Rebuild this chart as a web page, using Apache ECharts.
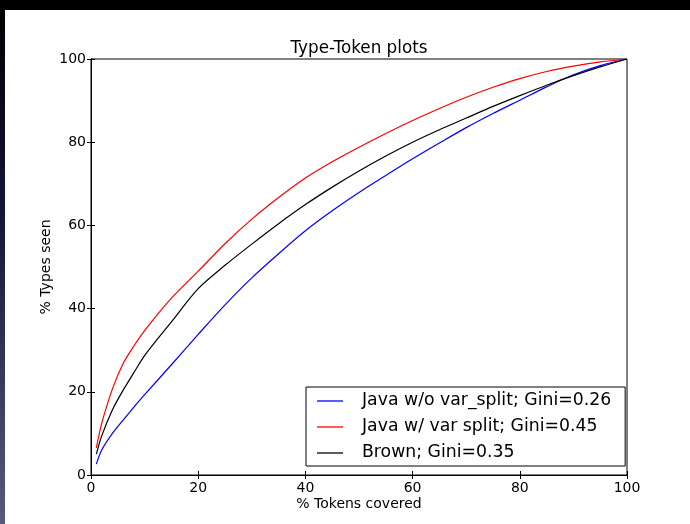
<!DOCTYPE html>
<html>
<head>
<meta charset="utf-8">
<script src="https://cdn.jsdelivr.net/npm/echarts@6/dist/echarts.min.js"></script>
<style>
    html, body { margin: 0; padding: 0; background: #fff; }
    #wrap { position: relative; width: 690px; height: 524px; overflow: hidden; }
    #chart { position: absolute; left: 0; top: 0; width: 690px; height: 524px; }
    #topband { position: absolute; left: 0; top: 0; width: 690px; height: 10px; background: #000; }
    #leftband {
        position: absolute; left: 0; top: 0; width: 5px; height: 524px;
        background: linear-gradient(to bottom, #000 0%, #14143a 40%, #3c3c62 75%, #5a5a7c 100%);
    }
</style>
</head>
<body>
<div id="wrap">
    <div id="chart"></div>
    <div id="topband"></div>
    <div id="leftband"></div>
</div>
<script>
// % tokens covered (x) shared by all three curves
const tokens = [1, 2, 4, 6, 8, 10, 15, 20, 25, 30, 35, 40, 45, 50, 55, 60, 65, 70, 75, 80, 85, 90, 95, 100]

// % types seen (y)
const javaNoSplit = [2.6, 6.0, 10.0, 13.2, 16.3, 19.3, 26.5, 33.8, 40.9, 47.4, 53.2, 58.7, 63.5, 67.9, 72.0, 76.0, 79.8, 83.5, 86.9, 90.1, 93.3, 96.2, 98.4, 100]
const javaSplit = [6.5, 12.4, 20.7, 26.8, 31.0, 34.7, 42.5, 49.0, 55.6, 61.5, 66.7, 71.4, 75.3, 78.8, 82.1, 85.2, 88.1, 90.8, 93.2, 95.3, 97.0, 98.3, 99.3, 100]
const brown = [5.0, 9.4, 15.7, 20.4, 24.6, 28.7, 36.8, 44.8, 50.4, 55.5, 60.4, 65.0, 69.2, 73.1, 76.7, 80.0, 83.0, 85.8, 88.6, 91.2, 93.7, 96.0, 98.1, 100]

const seriesNames = [
    'Java w/o var_split; Gini=0.26',
    'Java w/ var split; Gini=0.45',
    'Brown; Gini=0.35',
]
const seriesColors = ['#0000ff', '#ff0000', '#000000']
const seriesValues = [javaNoSplit, javaSplit, brown]

const xTicks = [0, 20, 40, 60, 80, 100]
const yTicks = [0, 20, 40, 60, 80, 100]

const font = 'DejaVu Sans'

const chart = echarts.init(document.getElementById('chart'))

const pairs = (ys) => tokens.map((x, i) => [x, ys[i]])

const baseAxis = {
    type: 'value',
    min: xTicks[0],
    max: xTicks[xTicks.length - 1],
    interval: 20,
    splitLine: { show: false },
    axisLine: { show: true, lineStyle: { color: '#000', width: 1 } },
    axisTick: { show: true, inside: true, length: 4, lineStyle: { color: '#000', width: 1 } },
}

chart.setOption({
    backgroundColor: '#fff',
    animation: false,
    title: {
        text: 'Type-Token plots',
        left: 359,
        top: 40,
        textAlign: 'center',
        padding: 0,
        textStyle: { fontFamily: font, fontSize: 16.8, fontWeight: 'normal', color: '#000' },
    },
    grid: { left: 91, right: 63, top: 59, bottom: 49, show: true, borderColor: '#000', borderWidth: 1 },
    legend: {
        orient: 'vertical',
        left: 306,
        top: 387,
        padding: [1, 14, 0, 11],
        itemGap: 0,
        itemWidth: 26,
        itemHeight: 1.3,
        icon: 'rect',
        borderColor: '#000',
        borderWidth: 1,
        backgroundColor: '#fff',
        textStyle: { fontFamily: font, fontSize: 17.3, color: '#000', lineHeight: 26, padding: [0, 0, 0, 14] },
        data: seriesNames,
    },
    xAxis: [
        {
            ...baseAxis,
            position: 'bottom',
            name: '% Tokens covered',
            nameLocation: 'middle',
            nameGap: 22,
            nameMoveOverlap: false,
            nameTextStyle: { fontFamily: font, fontSize: 14, color: '#000' },
            axisLabel: { fontFamily: font, fontSize: 14, color: '#000', margin: 6 },
        },
        {
            ...baseAxis,
            position: 'top',
            axisLabel: { show: false },
        },
    ],
    yAxis: [
        {
            ...baseAxis,
            min: yTicks[0],
            max: yTicks[yTicks.length - 1],
            position: 'left',
            name: '% Types seen',
            nameLocation: 'middle',
            nameGap: 38,
            nameMoveOverlap: false,
            nameTextStyle: { fontFamily: font, fontSize: 14, color: '#000' },
            axisLabel: { fontFamily: font, fontSize: 14, color: '#000', margin: 5 },
        },
        {
            ...baseAxis,
            min: yTicks[0],
            max: yTicks[yTicks.length - 1],
            position: 'right',
            axisLabel: { show: false },
        },
    ],
    series: seriesValues.map((ys, i) => ({
        name: seriesNames[i],
        type: 'line',
        data: pairs(ys),
        showSymbol: false,
        smooth: 0.3,
        color: seriesColors[i],
        lineStyle: { color: seriesColors[i], width: 1.2 },
    })),
})
</script>
</body>
</html>
